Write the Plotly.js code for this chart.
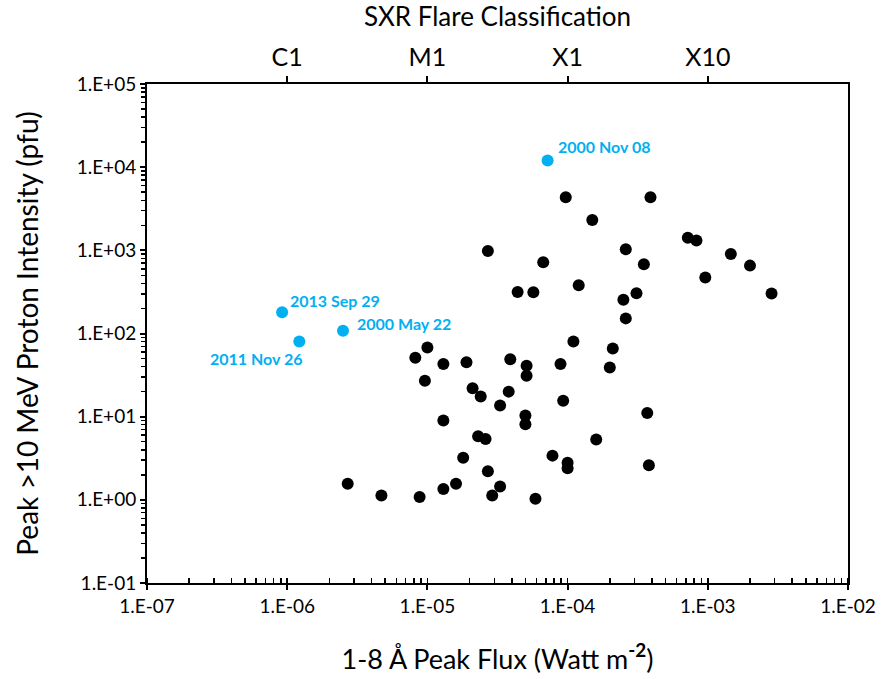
<!DOCTYPE html>
<html>
<head>
<meta charset="utf-8">
<script src="https://cdn.plot.ly/plotly-3.0.1.min.js"></script>
<style>
  html, body { margin: 0; padding: 0; background: #ffffff; }
  #chart { width: 881px; height: 679px; }
</style>
</head>
<body>
<div id="chart"></div>
<script>
// SXR peak flux (W m^-2) vs. peak >10 MeV proton intensity (pfu)
const eventFlux = [
  2.7e-5, 6.7e-5, 2.6e-4, 4.4e-5, 5.7e-5, 1.2e-4, 2.5e-4, 2.6e-4, 1.1e-4, 2.1e-4,
  2.0e-4, 1.0e-5, 8.2e-6, 1.3e-5, 1.9e-5, 3.9e-5, 5.1e-5, 5.1e-5, 8.9e-5, 9.6e-6,
  2.1e-5, 2.4e-5, 3.8e-5, 3.3e-5, 9.3e-5, 1.3e-5, 5.0e-5, 5.0e-5, 2.3e-5, 2.6e-5,
  1.6e-4, 1.8e-5, 7.8e-5, 1.0e-4, 1.0e-4, 2.7e-5, 2.7e-6, 4.7e-6, 8.8e-6, 1.3e-5,
  1.6e-5, 3.3e-5, 2.9e-5, 5.9e-5, 9.7e-5, 3.9e-4, 1.5e-4, 7.2e-4, 8.3e-4, 3.5e-4,
  1.46e-3, 2.0e-3, 9.6e-4, 3.1e-4, 2.85e-3, 3.7e-4, 3.8e-4
];
const eventProton = [
  980, 720, 1030, 316, 313, 380, 255, 152, 80, 66,
  39, 68, 51, 43, 45, 49, 41, 31, 43, 27,
  22, 17.5, 20, 13.6, 15.5, 9, 10.3, 8.1, 5.8, 5.4,
  5.3, 3.2, 3.4, 2.8, 2.4, 2.2, 1.56, 1.13, 1.08, 1.35,
  1.56, 1.45, 1.13, 1.03, 4350, 4350, 2320, 1420, 1310, 680,
  905, 655, 470, 305, 302, 11.1, 2.6
];

// Highlighted events
const namedLabels = ['2000 Nov 08', '2013 Sep 29', '2000 May 22', '2011 Nov 26'];
const namedFlux   = [7.2e-5, 9.2e-7, 2.5e-6, 1.22e-6];
const namedProton = [12000, 180, 108, 80];

// Axis tick labels
const xTickVals  = [1e-7, 1e-6, 1e-5, 1e-4, 1e-3, 1e-2];
const xTickText  = ['1.E-07', '1.E-06', '1.E-05', '1.E-04', '1.E-03', '1.E-02'];
const yTickVals  = [1e-1, 1e0, 1e1, 1e2, 1e3, 1e4, 1e5];
const yTickText  = ['1.E-01', '1.E+00', '1.E+01', '1.E+02', '1.E+03', '1.E+04', '1.E+05'];
const classVals  = [1e-6, 1e-5, 1e-4, 1e-3];
const classText  = ['C1', 'M1', 'X1', 'X10'];

const FONT = 'Lato, "Open Sans", "DejaVu Sans", sans-serif';
const BLUE = '#00B0F0';

const traces = [
  {
    type: 'scatter', mode: 'markers',
    x: eventFlux, y: eventProton,
    marker: { color: '#000000', size: 12 },
    hoverinfo: 'x+y', showlegend: false
  },
  {
    type: 'scatter', mode: 'markers',
    x: namedFlux, y: namedProton, text: namedLabels,
    marker: { color: BLUE, size: 12 },
    hoverinfo: 'text+x+y', showlegend: false
  },
  // invisible trace carrying the flare-class axis on top
  {
    type: 'scatter', mode: 'markers',
    x: classVals, y: [1, 1, 1, 1], xaxis: 'x2', yaxis: 'y',
    marker: { opacity: 0 }, hoverinfo: 'skip', showlegend: false
  }
];

// label placement for each highlighted event (pixel offsets from the marker)
const labelOffsets = [
  { xanchor: 'left',  xshift: 8, yshift: 14 },
  { xanchor: 'left',  xshift: 6, yshift: 12 },
  { xanchor: 'left',  xshift: 12, yshift: 7 },
  { xanchor: 'right', xshift: 6, yshift: -17 }
];

const annotations = namedLabels.map((t, i) => ({
  x: Math.log10(namedFlux[i]), y: Math.log10(namedProton[i]),
  xref: 'x', yref: 'y', text: '<b>' + t + '</b>', showarrow: false,
  xanchor: labelOffsets[i].xanchor, yanchor: 'middle',
  xshift: labelOffsets[i].xshift, yshift: labelOffsets[i].yshift,
  font: { family: FONT, size: 16, color: BLUE }
}));

const layout = {
  width: 881, height: 679,
  margin: { l: 147, r: 33, t: 84, b: 96 },
  paper_bgcolor: '#ffffff', plot_bgcolor: '#ffffff',
  font: { family: FONT, color: '#000000' },
  xaxis: {
    type: 'log', range: [-7, -2],
    tickmode: 'array', tickvals: xTickVals, ticktext: xTickText,
    tickfont: { size: 19, family: FONT },
    ticks: 'outside', ticklen: 5, tickwidth: 2, tickcolor: '#000',
    minor: { dtick: 'D1', ticks: 'inside', ticklen: 5, tickwidth: 1.5, tickcolor: '#000' },
    showline: true, linewidth: 2, linecolor: '#000', mirror: true,
    showgrid: false, zeroline: false,
    title: { text: '1-8 Å Peak Flux (Watt m<sup><b>-2</b></sup>)', font: { size: 27, family: FONT }, standoff: 34 }
  },
  xaxis2: {
    type: 'log', range: [-7, -2], overlaying: 'x', side: 'top',
    tickmode: 'array', tickvals: classVals, ticktext: classText,
    tickfont: { size: 25, family: FONT },
    ticks: 'outside', ticklen: 7, tickwidth: 2, tickcolor: '#000',
    showline: false, showgrid: false, zeroline: false,
    title: { text: 'SXR Flare Classification', font: { size: 26, family: FONT }, standoff: 14 }
  },
  yaxis: {
    type: 'log', range: [-1, 5],
    tickmode: 'array', tickvals: yTickVals, ticktext: yTickText,
    tickfont: { size: 19, family: FONT },
    ticks: 'outside', ticklen: 5, tickwidth: 2, tickcolor: '#000',
    minor: { dtick: 'D1', ticks: 'outside', ticklen: 4, tickwidth: 1.5, tickcolor: '#000' },
    showline: true, linewidth: 2, linecolor: '#000', mirror: true,
    showgrid: false, zeroline: false,
    title: { text: 'Peak >10 MeV Proton Intensity (pfu)', font: { size: 28, family: FONT }, standoff: 30 }
  },
  annotations: annotations,
  showlegend: false
};

Plotly.newPlot('chart', traces, layout, { displayModeBar: false, staticPlot: true });
</script>
</body>
</html>
